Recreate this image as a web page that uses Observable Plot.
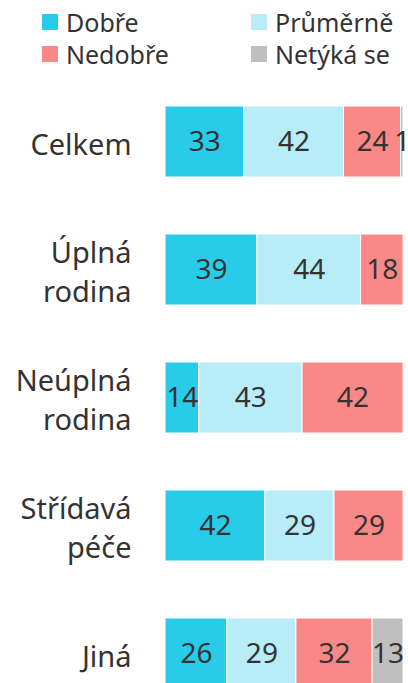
<!DOCTYPE html>
<html>
<head>
<meta charset="utf-8">
<script src="https://cdn.jsdelivr.net/npm/d3@7"></script>
<script src="https://cdn.jsdelivr.net/npm/@observablehq/plot@0.6"></script>
<style>
  html, body { margin: 0; padding: 0; background: #fff; overflow: hidden; }
  body { width: 408px; height: 683px; font-family: "Noto Sans", "Open Sans", sans-serif; color: #333; }
  #legend { position: relative; height: 48px; width: 408px; }
  .item { position: absolute; display: flex; align-items: center; font-size: 25px; line-height: 1; color: #333; }
  .sw { width: 16px; height: 16px; margin-right: 8px; }
</style>
</head>
<body>
<div id="legend"></div>
<div id="chart"></div>
<script>
const categories = ["Celkem", "Úplná rodina", "Neúplná rodina", "Střídavá péče", "Jiná"];
const categoryLabels = ["Celkem", "Úplná\nrodina", "Neúplná\nrodina", "Střídavá\npéče", "Jiná"];
const seriesNames = ["Dobře", "Průměrně", "Nedobře", "Netýká se"];
const seriesColors = ["#29cce8", "#b8edf7", "#fa8886", "#bfbfbf"];
const dobre     = [33, 39, 14, 42, 26];
const prumerne  = [42, 44, 43, 29, 29];
const nedobre   = [24, 18, 42, 29, 32];
const netykase  = [1, 0, 0, 0, 13];

const seriesValues = [dobre, prumerne, nedobre, netykase];
const data = [];
categories.forEach((c, i) => {
  seriesNames.forEach((s, j) => {
    data.push({category: c, series: s, value: seriesValues[j][i]});
  });
});

// legend
const legendPos = [[42, 14], [251, 14], [42, 46], [251, 46]];
const legend = document.getElementById("legend");
seriesNames.forEach((s, j) => {
  const it = document.createElement("div");
  it.className = "item";
  it.style.left = legendPos[j][0] + "px";
  it.style.top = (legendPos[j][1] - 6) + "px";
  it.style.height = "28px";
  it.innerHTML = `<span class="sw" style="background:${seriesColors[j]}"></span><span>${s}</span>`;
  legend.appendChild(it);
});

const labelMap = new Map(categories.map((c, i) => [c, categoryLabels[i]]));
const stackOpts = {x: "value", y: "category", z: "series", order: seriesNames, offset: "normalize"};

const chart = Plot.plot({
  width: 408,
  height: 700,
  marginTop: 0,
  marginLeft: 165,
  marginRight: 5,
  marginBottom: 0,
  style: {fontFamily: "'Noto Sans', 'Open Sans', sans-serif", color: "#333", background: "#fff"},
  x: {axis: null, domain: [0, 1]},
  y: {domain: categories, padding: 0.443, label: null},
  color: {domain: seriesNames, range: seriesColors},
  marks: [
    Plot.barX(data, Plot.stackX({...stackOpts, fill: "series", stroke: "#fff", strokeWidth: 1, inset: 0})),
    Plot.textX(data.filter(d => d.value > 0), Plot.stackX({...stackOpts, text: d => String(d.value), fill: "#333", fontSize: 28})),
    Plot.axisY({tickSize: 0, tickPadding: 34, fontSize: 29, lineHeight: 1.35, tickFormat: d => labelMap.get(d), fill: "#333", label: null})
  ]
});
document.getElementById("chart").appendChild(chart);
</script>
</body>
</html>
